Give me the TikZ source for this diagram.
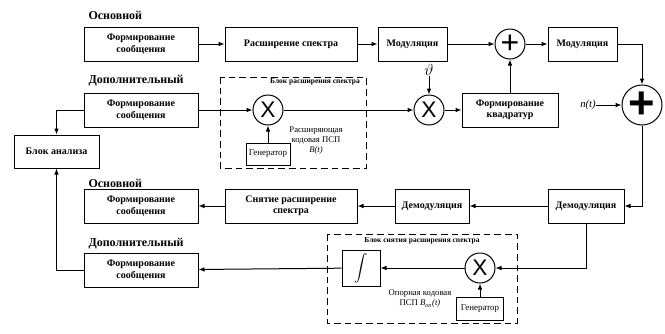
\documentclass[tikz,border=0pt]{standalone}
\usepackage{fontspec}
\setmainfont{Liberation Serif}
\newfontfamily\sansf{Liberation Sans}
\usetikzlibrary{arrows.meta}

\tikzset{every picture/.style={line width=0.75pt}}
\tikzset{
  blk/.style={draw, rectangle, inner sep=0pt, align=center, minimum height=25.5pt,
    font=\fontsize{7.5}{8.5}\selectfont\bfseries},
  gen/.style={draw, rectangle, inner sep=0pt, font=\fontsize{6.7}{7}\selectfont},
  mult/.style={draw, circle, inner sep=0pt, minimum size=22.5pt,
    font=\sansf\fontsize{17}{17}\selectfont},
  summ/.style={draw, circle, inner sep=0pt},
  chan/.style={anchor=west, inner sep=0pt, font=\fontsize{9}{10}\selectfont\bfseries},
  frame/.style={dashed, dash pattern=on 5pt off 3pt},
  frametitle/.style={inner sep=0pt, font=\fontsize{5.6}{6}\selectfont\bfseries},
  note/.style={inner sep=0pt, align=center, font=\fontsize{6.5}{7.5}\selectfont},
  arr/.style={-{Latex[length=4.5pt,width=3.5pt]}}
}

\begin{document}
\begin{tikzpicture}[x=0.75pt,y=0.75pt,yscale=-1,xscale=1]
    \useasboundingbox (0,0) rectangle (665,333);

    %Text: channel labels
    \node[chan] (lblA) at (88,15) {Основной};
    \node[chan] (lblB) at (88,81) {Дополнительный};
    \node[chan] (lblC) at (88,183) {Основной};
    \node[chan] (lblD) at (88,244) {Дополнительный};

    %Shape: Rectangle -- transmitter, main channel
    \node[blk, minimum width=85.5pt] (fsA) at (141,44) {Формирование\\сообщения};
    \node[blk, minimum width=99pt] (spread) at (291,44) {Расширение спектра};
    \node[blk, minimum width=51.75pt] (modA) at (412.5,44) {Модуляция};
    %Shape: Circle
    \node[summ, minimum size=22.5pt, font=\sansf\fontsize{24}{24}\selectfont] (sumA) at (510,44) {+};
    \node[blk, minimum width=51.75pt] (modB) at (582.5,44) {Модуляция};
    \node[summ, minimum size=30pt, font=\sansf\bfseries\fontsize{34}{34}\selectfont] (sumB) at (642,105) {+};

    %Shape: Rectangle -- transmitter, additional channel
    \node[blk, minimum width=85.5pt] (fsB) at (141,110) {Формирование\\сообщения};
    \node[mult] (mulA) at (268,110) {X};
    \node[gen, minimum width=33pt, minimum height=16.5pt] (genA) at (268,154) {Генератор};
    \node[note] (codeA) at (316,141) {Расширяющая\\кодовая ПСП\\\textit{B(t)}};
    \node[mult] (mulB) at (429,110) {X};
    \node[inner sep=0pt, font=\fontsize{12}{12}\selectfont] (phase) at (429,70) {$\vartheta$};
    \node[blk, minimum width=72pt] (quad) at (510,110) {Формирование\\квадратур};
    \node[blk, minimum width=63.75pt, minimum height=24.75pt] (anal) at (56.5,151.5) {Блок анализа};
    \node[inner sep=0pt, font=\itshape\fontsize{8}{9}\selectfont] (noise) at (588,105) {n(t)};

    %Shape: Dashed Rectangle
    \draw[frame] (220,77) rectangle (366,168);
    \node[frametitle] (titleA) at (315,81.5) {Блок расширения спектра};

    %Shape: Rectangle -- receiver, main channel
    \node[blk, minimum width=85.5pt] (fsC) at (141,206) {Формирование\\сообщения};
    \node[blk, minimum width=99pt] (despread) at (291,206) {Снятие расширение\\спектра};
    \node[blk, minimum width=55.5pt] (demA) at (432,206) {Демодуляция};
    \node[blk, minimum width=57pt] (demB) at (586,206) {Демодуляция};

    %Shape: Rectangle -- receiver, additional channel
    \node[blk, minimum width=85.5pt] (fsD) at (141,270) {Формирование\\сообщения};
    \node[draw, rectangle, minimum width=28.5pt, minimum height=27pt, inner sep=0pt] (integ) at (361,268) {$\displaystyle\int$};
    \node[mult] (mulC) at (480,268) {X};
    \node[gen, minimum width=35.25pt, minimum height=17.25pt] (genB) at (480,308.5) {Генератор};
    \node[note] (codeB) at (420,299) {Опорная кодовая\\ПСП \textit{B}\textsubscript{\textit{оп}}\textit{(t)}};

    %Shape: Dashed Rectangle
    \draw[frame] (327,234) rectangle (517,323);
    \node[frametitle] (titleB) at (422,240.5) {Блок снятия расширения спектра};

    %Straight Lines -- transmitter
    \draw[arr] (fsA) -- (spread);
    \draw[arr] (spread) -- (modA);
    \draw[arr] (modA) -- (sumA);
    \draw[arr] (sumA) -- (modB);
    \draw[arr] (modB.east) -| (sumB.north);
    \draw[arr] (fsB) -- (mulA);
    \draw[arr] (genA) -- (mulA);
    \draw[arr] (mulA) -- (mulB);
    \draw[arr] (phase) -- (mulB);
    \draw[arr] (mulB) -- (quad);
    \draw[arr] (quad) -- (sumA);
    \draw[arr] (noise) -- (sumB);
    \draw[arr] (fsB.west) -| (anal.north);

    %Straight Lines -- receiver
    \draw[arr] (sumB.south) |- (demB.east);
    \draw[arr] (demB) -- (demA);
    \draw[arr] (demA) -- (despread);
    \draw[arr] (despread) -- (fsC);
    \draw[arr] (demB.south) |- (mulC.east);
    \draw[arr] (genB) -- (mulC);
    \draw[arr] (mulC) -- (integ);
    \draw[arr] (integ) -- (fsD);
    \draw[arr] (fsD.west) -| (anal.south);

\end{tikzpicture}
\end{document}
